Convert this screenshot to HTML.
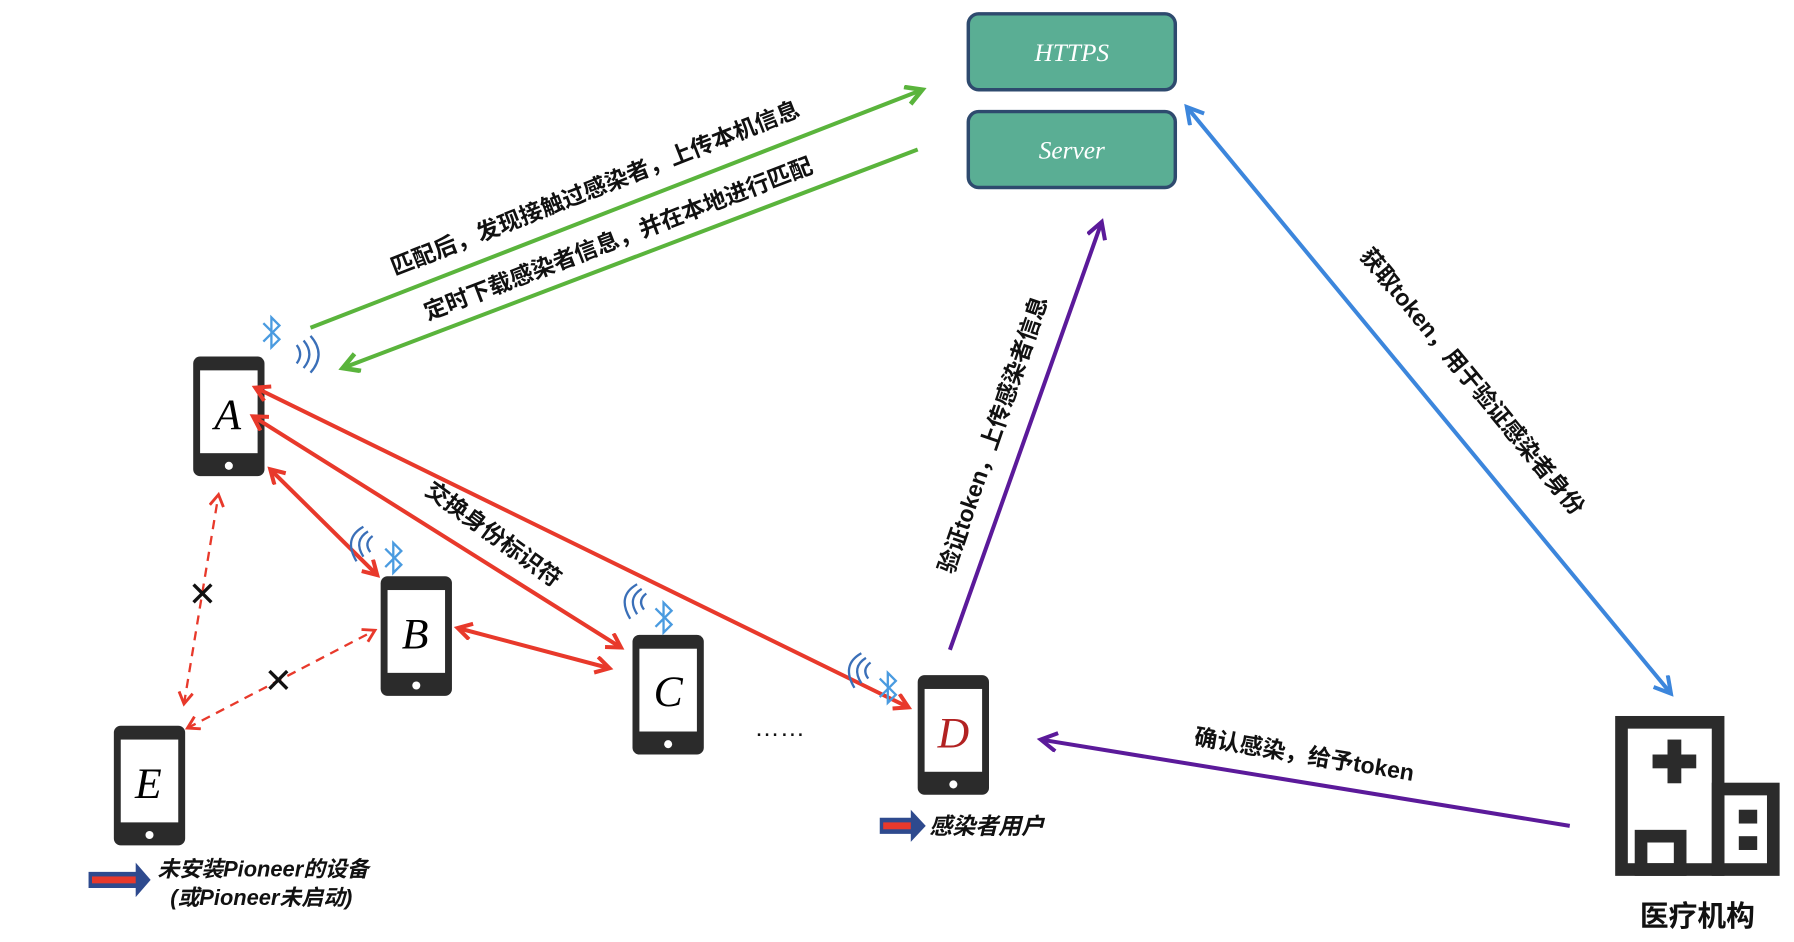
<!DOCTYPE html>
<html><head><meta charset="utf-8"><style>
html,body{margin:0;padding:0;background:#fff;}
svg{display:block;}
text{font-family:"Liberation Sans","Noto Sans CJK SC",sans-serif;}
.cn{font-weight:bold;font-size:20px;fill:#111;}
.let{font-family:"Liberation Serif",serif;font-style:italic;font-size:38px;}
</style></head><body>
<svg width="1794" height="942" viewBox="0 0 1560 819" preserveAspectRatio="none" xmlns="http://www.w3.org/2000/svg">
<defs>
<marker id="ar" markerWidth="20" markerHeight="20" refX="14" refY="8" orient="auto-start-reverse" markerUnits="userSpaceOnUse"><path d="M2,1 L14,8 L2,15" fill="none" stroke="#e8392b" stroke-width="3.5"/></marker>
<marker id="ard" markerWidth="20" markerHeight="20" refX="12" refY="7" orient="auto-start-reverse" markerUnits="userSpaceOnUse"><path d="M2,1 L12,7 L2,13" fill="none" stroke="#e8392b" stroke-width="2.5"/></marker>
<marker id="agr" markerWidth="22" markerHeight="22" refX="16" refY="9" orient="auto-start-reverse" markerUnits="userSpaceOnUse"><path d="M2,1 L16,9 L2,17" fill="none" stroke="#5ab43c" stroke-width="4"/></marker>
<marker id="ap" markerWidth="22" markerHeight="22" refX="16" refY="9" orient="auto-start-reverse" markerUnits="userSpaceOnUse"><path d="M2,1 L16,9 L2,17" fill="none" stroke="#5b1a9a" stroke-width="3.5"/></marker>
<marker id="ab" markerWidth="22" markerHeight="22" refX="16" refY="9" orient="auto-start-reverse" markerUnits="userSpaceOnUse"><path d="M2,1 L16,9 L2,17" fill="none" stroke="#3c86dc" stroke-width="3.5"/></marker>
<g id="phone"><rect x="0" y="0" width="62" height="104" rx="6" fill="#2b2b2b"/><rect x="6" y="12" width="50" height="72" fill="#fff"/><circle cx="31" cy="95" r="3.5" fill="#fff"/></g>
<g id="bt"><path d="M-7,-8 L7,6 L0,13 L0,-13 L7,-6 L-7,8" fill="none" stroke="#4a9be0" stroke-width="2"/></g>
</defs>

<rect x="842" y="12" width="180" height="66" rx="9" fill="#5aae94" stroke="#2e4a6e" stroke-width="3"/>
<text x="932" y="53" text-anchor="middle" fill="#fff" style="font-family:'Liberation Serif',serif;font-style:italic;font-size:22px">HTTPS</text>
<rect x="842" y="97" width="180" height="66" rx="9" fill="#5aae94" stroke="#2e4a6e" stroke-width="3"/>
<text x="932" y="138" text-anchor="middle" fill="#fff" style="font-family:'Liberation Serif',serif;font-style:italic;font-size:22px">Server</text>

<line x1="270" y1="285" x2="802" y2="78" stroke="#5ab43c" stroke-width="3.5" marker-end="url(#agr)"/>
<line x1="798" y1="130" x2="298" y2="320" stroke="#5ab43c" stroke-width="3.5" marker-end="url(#agr)"/>
<text class="cn" transform="translate(520,170) rotate(-21.5)" text-anchor="middle">匹配后，发现接触过感染者，上传本机信息</text>
<text class="cn" transform="translate(540,214) rotate(-21)" text-anchor="middle">定时下载感染者信息，并在本地进行匹配</text>

<use href="#phone" x="168" y="310"/><text class="let" x="198" y="373" text-anchor="middle">A</text>
<use href="#phone" x="331" y="501"/><text class="let" x="361" y="564" text-anchor="middle">B</text>
<use href="#phone" x="550" y="552"/><text class="let" x="581" y="614" text-anchor="middle">C</text>
<use href="#phone" x="798" y="587"/><text class="let" x="829" y="650" text-anchor="middle" fill="#b22222">D</text>
<use href="#phone" x="99" y="631"/><text class="let" x="129" y="694" text-anchor="middle">E</text>

<line x1="235" y1="408" x2="328" y2="500" stroke="#e8392b" stroke-width="3.5" marker-start="url(#ar)" marker-end="url(#ar)"/>
<line x1="220" y1="362" x2="540" y2="563" stroke="#e8392b" stroke-width="3.5" marker-start="url(#ar)" marker-end="url(#ar)"/>
<line x1="222" y1="337" x2="790" y2="615" stroke="#e8392b" stroke-width="3.5" marker-start="url(#ar)" marker-end="url(#ar)"/>
<line x1="398" y1="546" x2="530" y2="581" stroke="#e8392b" stroke-width="3.5" marker-start="url(#ar)" marker-end="url(#ar)"/>
<text class="cn" transform="translate(425,470) rotate(36)" text-anchor="middle">交换身份标识符</text>
<line x1="160" y1="612" x2="190" y2="430" stroke="#e8392b" stroke-width="2" stroke-dasharray="8,6" marker-start="url(#ard)" marker-end="url(#ard)"/>
<line x1="163" y1="633" x2="326" y2="548" stroke="#e8392b" stroke-width="2" stroke-dasharray="8,6" marker-start="url(#ard)" marker-end="url(#ard)"/>
<text x="176" y="527" text-anchor="middle" style="font-size:30px;fill:#111">✕</text>
<text x="242" y="602" text-anchor="middle" style="font-size:30px;fill:#111">✕</text>
<text x="678" y="640" text-anchor="middle" style="font-size:22px;fill:#111">……</text>

<use href="#bt" x="236" y="289"/>
<path d="M258,300 q6,8 0,16 M264,296 q10,12 0,24 M270,292 q14,16 0,32" fill="none" stroke="#3a6fb8" stroke-width="2"/>
<use href="#bt" x="342" y="485"/>
<path d="M322,480 q-6,-8 2,-14 M316,484 q-9,-14 4,-22 M310,488 q-12,-20 6,-30" fill="none" stroke="#3a6fb8" stroke-width="2"/>
<use href="#bt" x="577" y="537"/>
<path d="M560,530 q-6,-8 2,-14 M554,534 q-9,-14 4,-22 M548,538 q-12,-20 6,-30" fill="none" stroke="#3a6fb8" stroke-width="2"/>
<use href="#bt" x="772" y="598"/>
<path d="M755,590 q-6,-8 2,-14 M749,594 q-9,-14 4,-22 M743,598 q-12,-20 6,-30" fill="none" stroke="#3a6fb8" stroke-width="2"/>

<line x1="826" y1="565" x2="958" y2="193" stroke="#5b1a9a" stroke-width="3.5" marker-end="url(#ap)"/>
<text class="cn" transform="translate(870,380) rotate(-71)" text-anchor="middle">验证token，上传感染者信息</text>
<line x1="1365" y1="718" x2="905" y2="643" stroke="#5b1a9a" stroke-width="3.5" marker-end="url(#ap)"/>
<text class="cn" transform="translate(1133,663) rotate(9.5)" text-anchor="middle">确认感染，给予token</text>

<line x1="1032" y1="93" x2="1453" y2="603" stroke="#3c86dc" stroke-width="3.5" marker-start="url(#ab)" marker-end="url(#ab)"/>
<text class="cn" transform="translate(1275,336) rotate(50.5)" text-anchor="middle">获取token，用于验证感染者身份</text>

<g fill="none" stroke="#2b2b2b" stroke-width="11" stroke-linejoin="miter">
<rect x="1410" y="628" width="84" height="128"/>
<rect x="1494" y="686" width="48" height="70"/>
<rect x="1427" y="727" width="34" height="29"/>
</g>
<rect x="1437" y="656" width="38" height="12" fill="#2b2b2b"/>
<rect x="1450" y="643" width="12" height="38" fill="#2b2b2b"/>
<rect x="1512" y="704" width="16" height="12" fill="#2b2b2b"/>
<rect x="1512" y="727" width="16" height="12" fill="#2b2b2b"/>
<text x="1476" y="805" text-anchor="middle" style="font-weight:bold;font-size:25px;fill:#111">医疗机构</text>

<path d="M77,758 L118,758 L118,750 L131,765 L118,780 L118,772 L77,772 Z" fill="#2e4a8e"/>
<rect x="80" y="762" width="38" height="6" fill="#e8392b"/>
<text x="137" y="762" style="font-weight:bold;font-style:italic;font-size:19px;fill:#111">未安装Pioneer的设备</text>
<text x="148" y="787" style="font-weight:bold;font-style:italic;font-size:19px;fill:#111">(或Pioneer未启动)</text>
<path d="M765,711 L792,711 L792,704 L805,718 L792,732 L792,725 L765,725 Z" fill="#2e4a8e"/>
<rect x="768" y="715" width="24" height="6" fill="#e8392b"/>
<text x="808" y="725" style="font-weight:bold;font-style:italic;font-size:20px;fill:#111">感染者用户</text>
</svg>
</body></html>
